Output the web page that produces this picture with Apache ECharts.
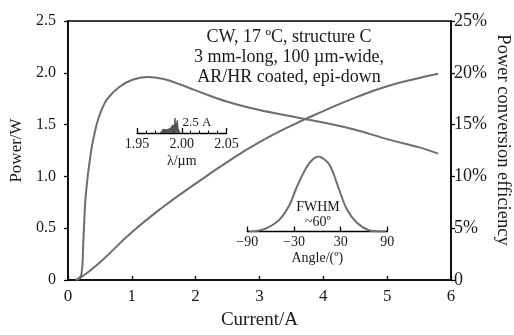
<!DOCTYPE html>
<html><head><meta charset="utf-8">
<script src="https://cdn.jsdelivr.net/npm/echarts@6/dist/echarts.min.js"></script>
<style>html,body{margin:0;padding:0;background:#fff}#c{width:514px;height:335px}</style>
</head><body><div id="c"></div>
<script>
// Main chart: output power vs current
const powerCurrent = [0.15, 0.5, 1.0, 1.5, 2.0, 2.5, 3.0, 3.5, 4.0, 4.5, 5.0, 5.5, 5.8];
const powerW       = [0, 0.17, 0.46, 0.71, 0.93, 1.14, 1.33, 1.49, 1.63, 1.76, 1.87, 1.95, 1.99];
// Power conversion efficiency vs current
const effCurrent = [0.12, 0.21, 0.24, 0.28, 0.36, 0.45, 0.52, 0.62, 0.8, 1.0, 1.25, 1.5, 1.75, 2.0, 2.5, 3.0, 3.5, 4.0, 4.5, 5.0, 5.5, 5.8];
const effPct     = [0, 0.5, 3.5, 8.2, 12.3, 15.0, 16.3, 17.5, 18.6, 19.3, 19.6, 19.4, 18.9, 18.3, 17.2, 16.4, 15.8, 15.2, 14.5, 13.6, 12.8, 12.2];
// Inset 1: emission spectrum at 2.5 A
const specLambda = [1.976, 1.977, 1.979, 1.981, 1.983, 1.985, 1.987, 1.989, 1.990, 1.991, 1.992, 1.9925, 1.993, 1.994, 1.995, 1.996, 1.997, 1.998];
const specInt    = [0, 0.1, 0.25, 0.3, 0.22, 0.35, 0.3, 0.4, 0.55, 0.35, 0.7, 1.0, 0.45, 0.6, 0.85, 0.3, 0.15, 0];
// Inset 2: far-field profile
const farAngle = [-88, -80, -65, -48, -35, -26.5, -13.6, -5, 1.3, 8, 16.3, 27, 37.8, 50.6, 65.6, 80.6, 88];
const farInt   = [0, 0.005, 0.045, 0.165, 0.37, 0.59, 0.86, 0.97, 1, 0.97, 0.88, 0.59, 0.30, 0.12, 0.02, 0, 0];
// Tick labels
const powerTicks = ['0', '0.5', '1.0', '1.5', '2.0', '2.5'];
const angleTicks = {'-90': '\u221290', '-30': '\u221230', '30': '30', '90': '90'};

const zip = (a, b) => a.map((v, i) => [v, b[i]]);
const FONT = '"Liberation Serif", "Times New Roman", serif';
const TXT = '#1a1a1a';
const CURVE = '#6e6e6e';

const chart = echarts.init(document.getElementById('c'), null, {renderer: 'canvas'});
chart.setOption({
  animation: false,
  textStyle: {fontFamily: FONT, color: TXT},
  grid: [
    {left: 67, right: 63, top: 21, bottom: 47, show: true, borderColor: '#000', borderWidth: 1.5, backgroundColor: 'transparent'},
    {left: 137, width: 89.5, top: 118, height: 15},
    {left: 247.3, width: 140, top: 156.5, height: 75}
  ],
  xAxis: [
    {gridIndex: 0, type: 'value', min: 0, max: 6, interval: 1,
     axisLine: {lineStyle: {color: '#000', width: 1.5}},
     axisTick: {inside: true, length: 4, lineStyle: {color: '#000', width: 1.3}},
     axisLabel: {fontSize: 17, color: TXT, margin: 8, fontFamily: FONT},
     splitLine: {show: false},
     name: 'Current/A', nameLocation: 'middle', nameGap: 31,
     nameTextStyle: {fontSize: 19, color: TXT, fontFamily: FONT}},
    {gridIndex: 1, type: 'value', min: 1.95, max: 2.05, interval: 0.05,
     axisLine: {lineStyle: {color: '#000', width: 1.3}},
     axisTick: {inside: true, length: 5, lineStyle: {color: '#000', width: 1.3}},
     minorTick: {show: true, splitNumber: 5, length: 2.5, lineStyle: {color: '#000', width: 1}},
     axisLabel: {fontSize: 14, color: TXT, margin: 4, fontFamily: FONT, formatter: v => v.toFixed(2)},
     splitLine: {show: false},
     name: '\u03bb/\u00b5m', nameLocation: 'middle', nameGap: 21,
     nameTextStyle: {fontSize: 14, color: TXT, fontFamily: FONT}},
    {gridIndex: 2, type: 'value', min: -90, max: 90, interval: 60,
     axisLine: {lineStyle: {color: '#000', width: 1.3}},
     axisTick: {inside: true, length: 5, lineStyle: {color: '#000', width: 1.3}},
     axisLabel: {fontSize: 14, color: TXT, margin: 4, fontFamily: FONT, formatter: v => angleTicks[String(Math.round(v))] || ''},
     splitLine: {show: false},
     name: 'Angle/(\u00ba)', nameLocation: 'middle', nameGap: 20,
     nameTextStyle: {fontSize: 14, color: TXT, fontFamily: FONT}}
  ],
  yAxis: [
    {gridIndex: 0, type: 'value', min: 0, max: 2.5, interval: 0.5,
     axisLine: {show: true, lineStyle: {color: '#000', width: 1.5}},
     axisTick: {show: true, length: 4, lineStyle: {color: '#000', width: 1.3}},
     axisLabel: {fontSize: 16, color: TXT, margin: 12, fontFamily: FONT, formatter: v => powerTicks[Math.round(v * 2)]},
     splitLine: {show: false},
     name: 'Power/W', nameLocation: 'middle', nameGap: 39,
     nameTextStyle: {fontSize: 17, color: TXT, fontFamily: FONT}},
    {gridIndex: 0, type: 'value', position: 'right', min: 0, max: 25, interval: 5,
     axisLine: {show: true, lineStyle: {color: '#000', width: 1.5}},
     axisTick: {show: true, length: 4, lineStyle: {color: '#000', width: 1.3}},
     axisLabel: {fontSize: 18, color: TXT, margin: 3, fontFamily: FONT, formatter: v => v === 0 ? '0' : v + '%'},
     splitLine: {show: false}},
    {gridIndex: 1, type: 'value', min: 0, max: 1, show: false},
    {gridIndex: 2, type: 'value', min: 0, max: 1, show: false}
  ],
  series: [
    {type: 'line', xAxisIndex: 0, yAxisIndex: 0, data: zip(powerCurrent, powerW), showSymbol: false,
     smooth: 0.5, lineStyle: {color: CURVE, width: 2}},
    {type: 'line', xAxisIndex: 0, yAxisIndex: 1, data: zip(effCurrent, effPct), showSymbol: false,
     smooth: 0.35, lineStyle: {color: CURVE, width: 2}},
    {type: 'line', xAxisIndex: 1, yAxisIndex: 2, data: zip(specLambda, specInt), showSymbol: false,
     lineStyle: {color: '#444', width: 0.8}, areaStyle: {color: '#444', opacity: 0.9}},
    {type: 'line', xAxisIndex: 2, yAxisIndex: 3, data: zip(farAngle, farInt), showSymbol: false,
     smooth: 0.4, lineStyle: {color: CURVE, width: 2}}
  ],
  graphic: [
    {type: 'text', x: 289, y: 37, style: {text: 'CW, 17 \u00baC, structure C', font: '18px ' + FONT, fill: TXT, align: 'center', verticalAlign: 'middle'}},
    {type: 'text', x: 289, y: 57, style: {text: '3 mm-long, 100 \u00b5m-wide,', font: '18px ' + FONT, fill: TXT, align: 'center', verticalAlign: 'middle'}},
    {type: 'text', x: 289, y: 77, style: {text: 'AR/HR coated, epi-down', font: '18px ' + FONT, fill: TXT, align: 'center', verticalAlign: 'middle'}},
    {type: 'text', x: 197, y: 123, style: {text: '2.5 A', font: '13px ' + FONT, fill: TXT, align: 'center', verticalAlign: 'middle'}},
    {type: 'text', x: 318, y: 207, style: {text: 'FWHM', font: '14px ' + FONT, fill: TXT, align: 'center', verticalAlign: 'middle'}},
    {type: 'text', x: 318, y: 222, style: {text: '~60\u00ba', font: '14px ' + FONT, fill: TXT, align: 'center', verticalAlign: 'middle'}},
    {type: 'text', x: 503, y: 140, rotation: -Math.PI / 2, style: {text: 'Power conversion efficiency', font: '18.5px ' + FONT, fill: TXT, align: 'center', verticalAlign: 'middle'}}
  ]
});
</script></body></html>
